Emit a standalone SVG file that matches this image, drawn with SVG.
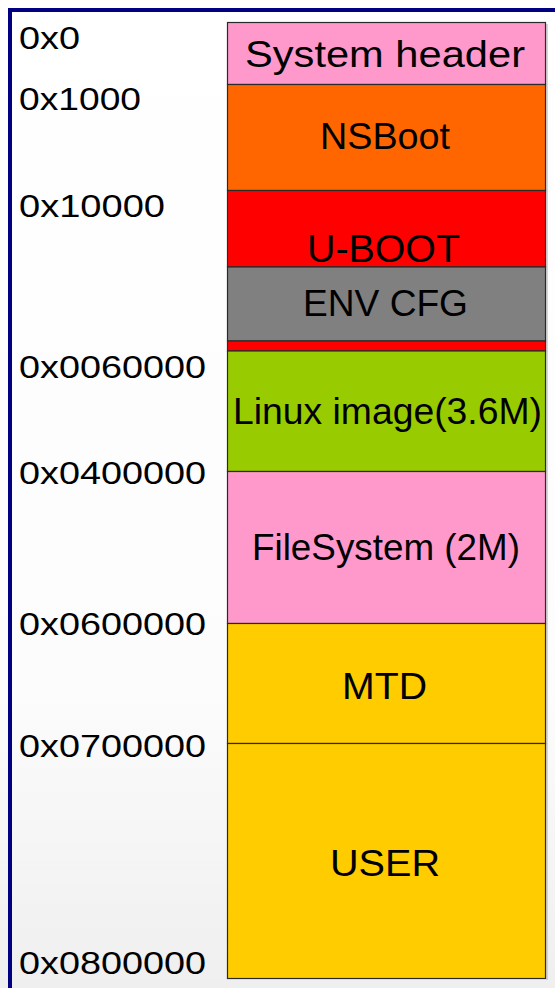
<svg xmlns="http://www.w3.org/2000/svg" width="555" height="988" viewBox="0 0 555 988">
<defs>
<linearGradient id="bg" x1="0" y1="0" x2="0" y2="1">
<stop offset="0" stop-color="#ffffff"/>
<stop offset="0.7" stop-color="#fcfcfc"/>
<stop offset="1" stop-color="#efefef"/>
</linearGradient>
</defs>
<style>
.seg{stroke:#2a2a2a;stroke-width:1.2}
.lbl{font-family:"Liberation Sans",Arial,sans-serif;font-size:32px;fill:#000}
.txt{font-family:"Liberation Sans",Arial,sans-serif;font-size:36px;fill:#000}
</style>
<rect x="0" y="0" width="555" height="988" fill="url(#bg)"/>
<rect x="10" y="10" width="560" height="1000" fill="none" stroke="#000080" stroke-width="4"/>
<line x1="547" y1="24" x2="547" y2="980" stroke="#c8c8c8" stroke-width="1.5"/>
<g id="labels">
<text class="lbl" x="19" y="49" textLength="61" lengthAdjust="spacingAndGlyphs">0x0</text>
<text class="lbl" x="19" y="110" textLength="122" lengthAdjust="spacingAndGlyphs">0x1000</text>
<text class="lbl" x="19" y="217" textLength="146" lengthAdjust="spacingAndGlyphs">0x10000</text>
<text class="lbl" x="19" y="378" textLength="187" lengthAdjust="spacingAndGlyphs">0x0060000</text>
<text class="lbl" x="19" y="484" textLength="187" lengthAdjust="spacingAndGlyphs">0x0400000</text>
<text class="lbl" x="19" y="635" textLength="187" lengthAdjust="spacingAndGlyphs">0x0600000</text>
<text class="lbl" x="19" y="757" textLength="187" lengthAdjust="spacingAndGlyphs">0x0700000</text>
<text class="lbl" x="19" y="974" textLength="187" lengthAdjust="spacingAndGlyphs">0x0800000</text>
</g>
<g id="sysheader"><rect class="seg" x="227.5" y="22.5" width="318" height="62" fill="#FF99CC"/><text class="txt" x="245" y="67" textLength="280" lengthAdjust="spacingAndGlyphs">System header</text></g>
<g id="nsboot"><rect class="seg" x="227.5" y="84.5" width="318" height="106" fill="#FF6600"/><text class="txt" x="320" y="149" textLength="130" lengthAdjust="spacingAndGlyphs">NSBoot</text></g>
<g id="uboot"><rect class="seg" x="227.5" y="190.5" width="318" height="76.5" fill="#FF0000"/><text class="txt" x="307" y="262" textLength="153" lengthAdjust="spacingAndGlyphs" style="font-size:38px">U-BOOT</text></g>
<g id="envcfg"><rect class="seg" x="227.5" y="267" width="318" height="74" fill="#808080"/><text class="txt" x="303" y="316" textLength="165" lengthAdjust="spacingAndGlyphs">ENV CFG</text></g>
<g id="gap"><rect class="seg" x="227.5" y="341" width="318" height="10" fill="#FF0000"/></g>
<g id="linux"><rect class="seg" x="227.5" y="351" width="318" height="120.5" fill="#99CC00"/><text class="txt" x="233" y="424" textLength="309" lengthAdjust="spacingAndGlyphs">Linux image(3.6M)</text></g>
<g id="filesystem"><rect class="seg" x="227.5" y="471.5" width="318" height="152" fill="#FF99CC"/><text class="txt" x="252" y="560" textLength="268" lengthAdjust="spacingAndGlyphs">FileSystem (2M)</text></g>
<g id="mtd"><rect class="seg" x="227.5" y="623.5" width="318" height="120" fill="#FFCC00"/><text class="txt" x="342" y="699" textLength="85" lengthAdjust="spacingAndGlyphs">MTD</text></g>
<g id="user"><rect class="seg" x="227.5" y="743.5" width="318" height="235" fill="#FFCC00"/><text class="txt" x="330" y="876" textLength="110" lengthAdjust="spacingAndGlyphs">USER</text></g>
</svg>
